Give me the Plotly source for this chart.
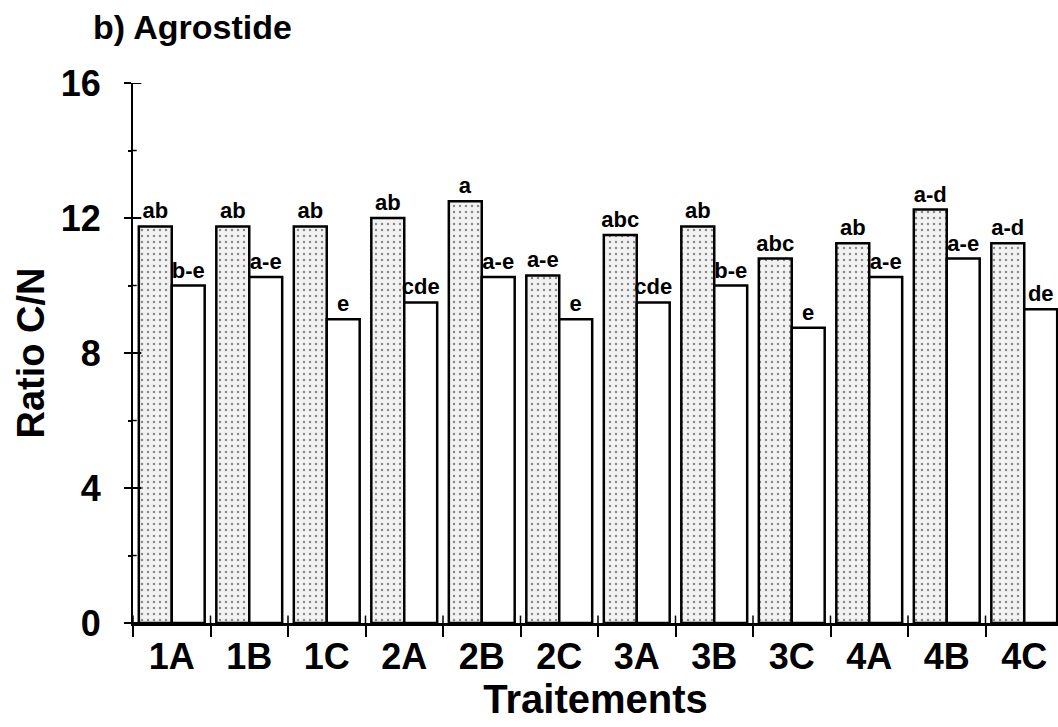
import plotly.graph_objects as go

# C/N ratio per treatment, two sampling dates per treatment
traitements = ["1A", "1B", "1C", "2A", "2B", "2C", "3A", "3B", "3C", "4A", "4B", "4C"]
ratio_pointille = [11.75, 11.75, 11.75, 12.0, 12.5, 10.3, 11.5, 11.75, 10.8, 11.25, 12.25, 11.25]
ratio_blanc = [10.0, 10.25, 9.0, 9.5, 10.25, 9.0, 9.5, 10.0, 8.75, 10.25, 10.8, 9.3]
lettres_pointille = ["ab", "ab", "ab", "ab", "a", "a-e", "abc", "ab", "abc", "ab", "a-d", "a-d"]
lettres_blanc = ["b-e", "a-e", "e", "cde", "a-e", "e", "cde", "b-e", "e", "a-e", "a-e", "de"]

y_ticks = [0, 4, 8, 12, 16]
y_minor = [2, 6, 10, 14]

FONT = "Liberation Sans, Arial, sans-serif"
label_font = dict(family=FONT, size=22, color="black", weight="bold")

fig = go.Figure()
fig.add_trace(go.Bar(
    x=traitements, y=ratio_pointille, text=lettres_pointille,
    textposition="outside", textfont=label_font, constraintext="none", cliponaxis=False,
    marker=dict(color="#f2f2f2", line=dict(color="black", width=2.5),
                pattern=dict(shape=".", fgcolor="#222222", bgcolor="#f2f2f2",
                             size=6, solidity=0.14)),
    showlegend=False,
))
fig.add_trace(go.Bar(
    x=traitements, y=ratio_blanc, text=lettres_blanc,
    textposition="outside", textfont=label_font, constraintext="none", cliponaxis=False,
    marker=dict(color="white", line=dict(color="black", width=2.5)),
    showlegend=False,
))

# tick marks that cross the axes (inner halves)
shapes = []
for v in y_ticks:
    shapes.append(dict(type="line", xref="paper", yref="y", x0=0, x1=0.009, y0=v, y1=v,
                       line=dict(color="black", width=2)))
for v in y_minor:
    shapes.append(dict(type="line", xref="paper", yref="y", x0=0, x1=0.004, y0=v, y1=v,
                       line=dict(color="black", width=1.5)))
for i in range(len(traitements)):
    shapes.append(dict(type="line", xref="x", yref="y", x0=i - 0.5, x1=i - 0.5, y0=0, y1=0.22,
                       line=dict(color="black", width=1.5)))

fig.update_layout(
    width=1058, height=727,
    margin=dict(l=133, r=0, t=83, b=104),
    paper_bgcolor="white", plot_bgcolor="white",
    barmode="group", bargap=0.15, bargroupgap=0,
    shapes=shapes,
    title=dict(text="b) Agrostide", x=93 / 1058, xanchor="left", y=1 - 27 / 727, yanchor="middle",
               font=dict(family=FONT, size=34, color="black", weight="bold")),
    xaxis=dict(
        range=[-0.5, -0.5 + 925 / 77.5],
        showline=True, linecolor="black", linewidth=2.5,
        ticks="outside", tickson="boundaries", ticklen=11, tickwidth=1.5, tickcolor="black",
        tickfont=dict(family=FONT, size=36, color="black", weight="bold"),
        showgrid=False, zeroline=False,
        title=dict(text="Traitements", standoff=4,
                   font=dict(family=FONT, size=40, color="black", weight="bold")),
    ),
    yaxis=dict(
        range=[0, 16], tickvals=y_ticks,
        showline=True, linecolor="black", linewidth=2,
        ticks="outside", ticklen=7, tickwidth=2, tickcolor="black",
        minor=dict(tickvals=y_minor, ticks="outside", ticklen=3, tickwidth=1.5, tickcolor="black"),
        tickfont=dict(family=FONT, size=36, color="black", weight="bold"),
        ticklabelstandoff=16,
        showgrid=False, zeroline=False,
        title=dict(text="Ratio C/N", standoff=4,
                   font=dict(family=FONT, size=38, color="black", weight="bold")),
    ),
)

fig.write_html("out.html")
